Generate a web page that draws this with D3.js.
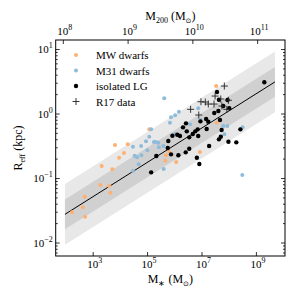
<!DOCTYPE html>
<html>
<head>
<meta charset="utf-8">
<script src="https://cdn.jsdelivr.net/npm/d3@7"></script>
<style>
  body { margin: 0; background: #fff; }
  text { font-family: "Liberation Serif", serif; }
</style>
</head>
<body>
<div id="viz-container"></div>
<script>
// values are [log10 M* (Msun), log10 Reff (kpc)]
let mwDwarfs = [
  [5.08, -0.245], [3.82, -0.488], [4.29, -0.478], [4.15, -0.612], [3.97, -0.685],
  [3.33, -0.814], [3.72, -0.865], [3.60, -1.124], [3.28, -1.109], [3.65, -1.228],
  [2.71, -1.290], [2.64, -1.454], [2.24, -1.532], [2.72, -1.600], [5.81, -0.592],
  [5.69, -0.648], [5.67, -0.732], [6.07, -0.752], [6.94, -0.597], [7.54, 0.426],
  [7.56, -0.143]
];
let m31Dwarfs = [
  [5.15, -0.245], [5.08, -0.360], [4.96, -0.431], [5.25, -0.442], [5.32, -0.442],
  [4.48, -0.515], [4.78, -0.504], [5.43, -0.524], [5.60, -0.504], [5.01, -0.571],
  [4.54, -0.654], [4.63, -0.679], [4.79, -0.648], [4.69, -0.788], [4.48, -0.891],
  [5.61, -0.860], [5.77, -0.422], [5.84, -0.143], [6.03, -0.318], [6.58, -0.167],
  [6.18, -0.329], [5.63, 0.236], [6.17, 0.028], [6.03, -0.028], [5.88, -0.059],
  [6.88, 0.081], [6.44, -0.271], [6.97, -0.101], [7.80, -0.194], [7.95, -0.194],
  [7.84, -0.322], [8.51, -0.214], [8.50, -0.953], [5.41, -0.453]
];
let isolatedLG = [
  [9.31, 0.484], [6.32, -0.214], [6.43, -0.152], [5.93, -0.344], [6.11, -0.329],
  [6.21, -0.349], [6.46, -0.276], [6.68, -0.318], [6.77, -0.276], [6.86, -0.245],
  [6.88, -0.349], [7.19, -0.240], [7.25, -0.127], [5.76, -0.535], [5.88, -0.633],
  [5.34, -0.659], [6.15, -0.648], [6.42, -0.602], [6.55, -0.546], [6.83, -0.685],
  [6.92, -0.783], [5.15, -0.912], [7.64, 0.214], [7.96, 0.209], [7.62, 0.039],
  [7.47, 0.008], [7.17, -0.085], [6.96, -0.121], [5.78, -0.426], [6.55, -0.369],
  [8.43, -0.245], [7.64, -0.400], [7.99, -0.437], [8.28, -0.447], [7.28, -0.504],
  [7.74, -0.256], [7.68, -0.101], [7.71, -0.360], [7.80, 0.116], [8.02, 0.081],
  [7.57, 0.333]
];
let r17Data = [
  [7.84, 0.426], [7.50, 0.271], [6.98, 0.183], [7.14, 0.178], [7.25, 0.147],
  [7.46, 0.147], [7.71, 0.225], [7.99, 0.205], [7.75, 0.116], [7.93, 0.065],
  [6.60, 0.065], [6.90, -0.023]
];

// fit: log Reff = intercept + slope * log M*, with two scatter bands (dex)
let fitSlope = 0.266;
let fitIntercept = -2.09;
let fitLogMRange = [1.98, 9.70];
let bandInner = 0.23;
let bandOuter = 0.47;

let xTickExps = [3, 5, 7, 9];
let yTickExps = [-2, -1, 0, 1];
let topTickExps = [8, 9, 10, 11];

let legendNames = ["MW dwarfs", "M31 dwarfs", "isolated LG", "R17 data"];

let W = 299, H = 288;
let mLeft = 55.7, mRight = 285, mTop = 40, mBottom = 256;

let viz = d3.select("#viz-container")
  .append("svg")
    .attr("width", W)
    .attr("height", H)
;

let x = d3.scaleLog().domain([Math.pow(10, 1.64), Math.pow(10, 10.07)]).range([mLeft, mRight]);
let y = d3.scaleLog().domain([Math.pow(10, -2.209), Math.pow(10, 1.14)]).range([mBottom, mTop]);
let xTop = d3.scaleLog().domain([Math.pow(10, 7.89), Math.pow(10, 11.43)]).range([mLeft, mRight]);

function px(d){ return x(Math.pow(10, d[0])); }
function py(d){ return y(Math.pow(10, d[1])); }

// bands
function bandPoly(w){
  let a = fitLogMRange[0], b = fitLogMRange[1];
  let pts = [
    [a, fitIntercept + fitSlope * a + w],
    [b, fitIntercept + fitSlope * b + w],
    [b, fitIntercept + fitSlope * b - w],
    [a, fitIntercept + fitSlope * a - w]
  ];
  return pts.map(p => [px(p), py(p)].join(",")).join(" ");
}
viz.append("polygon").attr("points", bandPoly(bandOuter)).attr("fill", "#e8e8e8");
viz.append("polygon").attr("points", bandPoly(bandInner)).attr("fill", "#d0d0d0");

let fitLine = fitLogMRange.map(m => [m, fitIntercept + fitSlope * m]);
viz.append("line")
  .attr("x1", px(fitLine[0])).attr("y1", py(fitLine[0]))
  .attr("x2", px(fitLine[1])).attr("y2", py(fitLine[1]))
  .attr("stroke", "black")
  .attr("stroke-width", 1)
;

// points
let mwColor = "#ffb070";
let m31Color = "#8fbbdb";

viz.selectAll(".mw").data(mwDwarfs).enter()
  .append("circle")
    .attr("class", "mw")
    .attr("cx", px).attr("cy", py).attr("r", 2)
    .attr("fill", mwColor)
;
viz.selectAll(".m31").data(m31Dwarfs).enter()
  .append("circle")
    .attr("class", "m31")
    .attr("cx", px).attr("cy", py).attr("r", 2)
    .attr("fill", m31Color)
;
viz.selectAll(".iso").data(isolatedLG).enter()
  .append("circle")
    .attr("class", "iso")
    .attr("cx", px).attr("cy", py).attr("r", 2.2)
    .attr("fill", "black")
;
function plusPath(cx, cy, s){
  return "M" + (cx - s) + "," + cy + "H" + (cx + s) + "M" + cx + "," + (cy - s) + "V" + (cy + s);
}
viz.selectAll(".r17").data(r17Data).enter()
  .append("path")
    .attr("class", "r17")
    .attr("d", d => plusPath(px(d), py(d), 3.5))
    .attr("stroke", "#222")
    .attr("stroke-width", 0.9)
    .attr("fill", "none")
;

// axes (ticks point inward)
function minorTicks(scale){
  let dom = scale.domain();
  let lo = Math.floor(Math.log10(dom[0])), hi = Math.ceil(Math.log10(dom[1]));
  let out = [];
  for (let e = lo; e <= hi; e++){
    for (let k = 2; k <= 9; k++){
      let v = k * Math.pow(10, e);
      if (v > dom[0] && v < dom[1]) out.push(v);
    }
  }
  return out;
}
let yMajor = yTickExps.map(e => Math.pow(10, e));
let xMajor = xTickExps.map(e => Math.pow(10, e));
let topMajor = topTickExps.map(e => Math.pow(10, e));

function addAxis(axis, tx, ty){
  let g = viz.append("g")
    .attr("transform", "translate(" + tx + "," + ty + ")")
    .call(axis.tickFormat(() => ""));
  g.select(".domain").remove();
  g.selectAll("line").attr("stroke", "black").attr("stroke-width", 0.8);
  return g;
}
addAxis(d3.axisLeft(y).tickValues(yMajor).tickSizeInner(-4).tickSizeOuter(0), mLeft, 0);
addAxis(d3.axisLeft(y).tickValues(minorTicks(y)).tickSizeInner(-2).tickSizeOuter(0), mLeft, 0);
addAxis(d3.axisRight(y).tickValues(yMajor).tickSizeInner(-4).tickSizeOuter(0), mRight, 0);
addAxis(d3.axisRight(y).tickValues(minorTicks(y)).tickSizeInner(-2).tickSizeOuter(0), mRight, 0);
addAxis(d3.axisBottom(x).tickValues(xMajor).tickSizeInner(-4).tickSizeOuter(0), 0, mBottom);
addAxis(d3.axisTop(xTop).tickValues(topMajor).tickSizeInner(-4).tickSizeOuter(0), 0, mTop);

viz.append("rect")
  .attr("x", mLeft).attr("y", mTop)
  .attr("width", mRight - mLeft).attr("height", mBottom - mTop)
  .attr("fill", "none")
  .attr("stroke", "black")
  .attr("stroke-width", 1)
;

// tick labels: 10^n
function powLabel(sel, e){
  sel.append("tspan").text("10");
  sel.append("tspan")
    .attr("dy", -5)
    .attr("font-size", 8)
    .text(e < 0 ? "\u2212" + (-e) : String(e));
}
yTickExps.forEach(function(e){
  let t = viz.append("text")
    .attr("x", mLeft - 3)
    .attr("y", y(Math.pow(10, e)) + 4)
    .attr("text-anchor", "end")
    .attr("font-size", 11);
  powLabel(t, e);
});
xTickExps.forEach(function(e){
  let t = viz.append("text")
    .attr("x", x(Math.pow(10, e)) + 2)
    .attr("y", mBottom + 12)
    .attr("text-anchor", "middle")
    .attr("font-size", 11);
  powLabel(t, e);
});
topTickExps.forEach(function(e){
  let t = viz.append("text")
    .attr("x", xTop(Math.pow(10, e)) + 2)
    .attr("y", mTop - 5)
    .attr("text-anchor", "middle")
    .attr("font-size", 11);
  powLabel(t, e);
});

// axis titles: "X_sub (unit_sub2)"
function subLabel(sel, main, sub, unit, unitSub){
  sel.append("tspan").text(main);
  sel.append("tspan").attr("font-size", 8).attr("dy", 2.5).text(sub);
  sel.append("tspan").attr("dy", -2.5).text(" (" + unit);
  if (unitSub){
    sel.append("tspan").attr("font-size", 7).attr("dy", 2.5)
      .attr("font-family", "DejaVu Sans").text(unitSub);
    sel.append("tspan").attr("dy", -2.5).text(")");
  } else {
    sel.append("tspan").text(")");
  }
}
let xt = viz.append("text")
  .attr("x", (mLeft + mRight) / 2)
  .attr("y", 283)
  .attr("text-anchor", "middle")
  .attr("font-size", 12);
subLabel(xt, "M", "\u2217", "M", "\u2299");

let tt = viz.append("text")
  .attr("x", (mLeft + mRight) / 2)
  .attr("y", 20)
  .attr("text-anchor", "middle")
  .attr("font-size", 12);
subLabel(tt, "M", "200", "M", "\u2299");

let yt = viz.append("text")
  .attr("transform", "translate(22," + ((mTop + mBottom) / 2) + ") rotate(-90)")
  .attr("text-anchor", "middle")
  .attr("font-size", 12);
subLabel(yt, "R", "eff", "kpc", null);

// legend
let legend = viz.selectAll(".leg").data(legendNames).enter()
  .append("g")
    .attr("class", "leg")
    .attr("transform", (d, i) => "translate(76," + (55 + i * 15.5) + ")")
;
legend.each(function(d, i){
  let g = d3.select(this);
  if (i < 3){
    g.append("circle").attr("r", i == 2 ? 2.2 : 2)
      .attr("fill", i == 0 ? mwColor : i == 1 ? m31Color : "black");
  } else {
    g.append("path").attr("d", plusPath(0, 0, 3.5))
      .attr("stroke", "#222").attr("stroke-width", 0.9);
  }
  g.append("text").attr("x", 20).attr("y", 4).attr("font-size", 11).text(d);
});
</script>
</body>
</html>
